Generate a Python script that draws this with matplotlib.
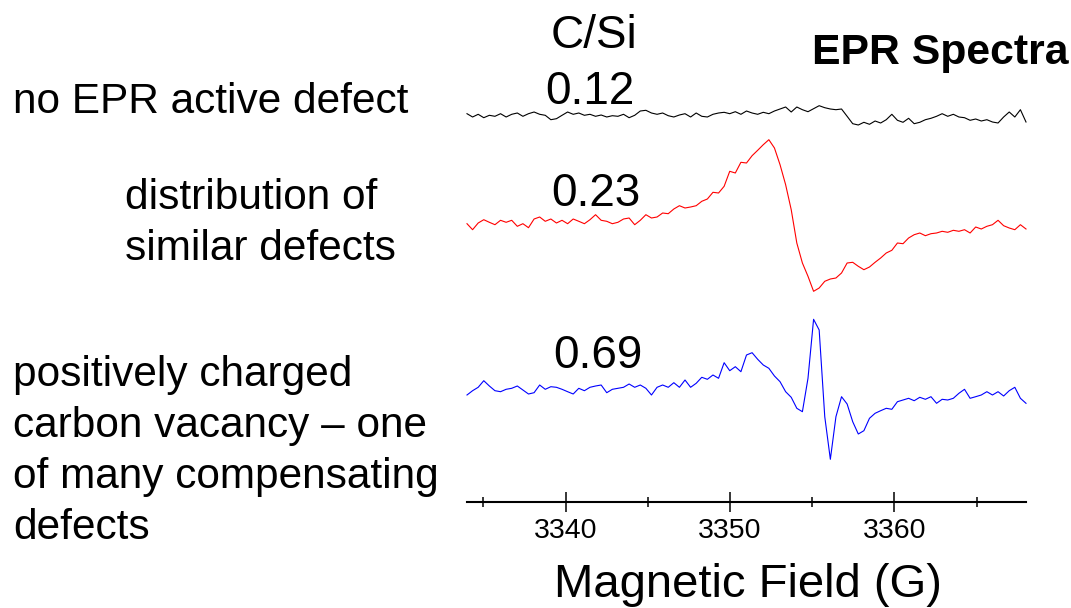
import numpy as np
import matplotlib
matplotlib.use("Agg")
import matplotlib.pyplot as plt
from matplotlib.ticker import MultipleLocator

plt.rcParams['font.family'] = ['Liberation Sans', 'DejaVu Sans']

# 磁场范围 (G)，三条谱线都按同一网格采样
field = np.linspace(3334, 3368, 101)

# 信号 (任意单位，相对各自基线)
sig_012 = [3.3, 0, 2.7, -0.7, 1.7, 0.7, 3.3, 0, 2.7, 4, 0.7, 3.3, 5, 2.7, 1.7, -2.7, -1.7,
           1.7, 5, 2.7, 4, 1.7, 2.7, 0.7, 2, 0, 1.3, 0.7, 2.7, -0.7, 1.7, 6, 6.7, 4, 2.7,
           4, 1.3, 0, 2, 3.3, 0, 4, 0.7, 0, 2.7, 4, 4.7, 3.3, 5.3, 2.7, 6, 4, 2.7, 4.7,
           3.3, 6, 8, 10, 5, 10, 7.3, 5.3, 8.3, 11.3, 9.3, 8, 7.3, 8, 0.7, -6.7, -8,
           -5.3, -7.3, -4, -6, -2.7, 2.7, -3.3, -5.3, -1.3, -6.7, -5.3, -2.7, -1.3, 0.7,
           3.3, 0.7, 2.7, 0, -0.7, -3.3, -2, -4, -2.7, -5, -6, 0, 5, 0, 7.3, -5]

sig_023 = [-0.7, -6.7, 0, 3.3, 0.7, -1.7, 2.7, 0.7, 2.7, -3.3, -0.7, -4.7, 4, 6, 1.7, 4,
           0, 2.7, -0.7, 4, 1.7, -0.7, 3.3, 8.3, 2.7, 1.7, -0.7, 0.7, 4, 5, -1.7, 2.7,
           8.3, 5, 6, 10, 9.3, 14, 17.3, 15, 16, 17.3, 21.7, 24, 30.7, 30, 36.7, 51.7,
           50, 60.7, 60, 67.3, 72.7, 78.3, 83.3, 75, 58.3, 38.3, 13.3, -20, -40, -53.3,
           -68.3, -65, -58.3, -56, -55, -50, -40, -39.3, -43.3, -46.7, -44, -39.3, -35,
           -30, -27.3, -20, -20.7, -15, -11.7, -10, -12.7, -10.7, -10, -8.3, -9.3, -7.3,
           -8.3, -6.7, -10, -4, -6, -3.3, -1.7, 2.7, -2.7, -5, -6.7, -1.7, -6]

sig_069 = [-5, -0.7, 2.7, 9.3, 4, -0.7, -1.7, 0.7, 1.7, 4, 0, -4, -2.7, 5, 0.7, 3.3, 2.7,
           0.7, -1.7, -4, 1.7, -0.7, 2.7, 4, 5, -2.7, 0.7, 1.7, 2.7, 6, 2.7, 5, 1.7, -5,
           2.7, 5, 2.7, 7.3, 2.7, 10, 2.7, 6.7, 12.7, 10.7, 15, 11.7, 27.3, 19.3, 23.3,
           18.3, 35, 37.3, 30.7, 25, 21.7, 14, 8.3, -1.7, -7.3, -18.3, -21.7, 11.7, 70.7,
           60, -26.7, -69.3, -26.7, -6.7, -14, -31.7, -44, -40.7, -28.3, -23.3, -20.7,
           -18.3, -19.3, -11.7, -10, -8.3, -10.7, -7.3, -9.3, -6.7, -13.3, -9.3, -10,
           -8.3, -3.3, 0.7, -8.3, -6.7, -5, -1.7, -5, -1.7, -6, -0.7, 2.7, -8.3, -13.3]

ratios = ['0.12', '0.23', '0.69']
colors = ['black', 'red', 'blue']
offsets = [385, 279, 112]  # 各谱线在图中的垂直偏移
labels = ['no EPR active defect', 'distribution of\nsimilar defects',
          'positively charged\ncarbon vacancy \u2013 one\nof many compensating\ndefects']

W, H = 1071, 608
fig = plt.figure(figsize=(W / 100, H / 100), dpi=100)
ax = fig.add_axes([467 / W, (H - 502) / H, 559 / W, 408 / H])

for sig, off, c in zip([sig_012, sig_023, sig_069], offsets, colors):
    ax.plot(field, np.array(sig) + off, color=c, lw=0.8, clip_on=False)

ax.set_xlim(3334, 3368)
ax.set_ylim(0, 408)
for s in ['left', 'right', 'top']:
    ax.spines[s].set_visible(False)
ax.spines['bottom'].set_linewidth(1.5)
ax.set_yticks([])
ax.xaxis.set_major_locator(MultipleLocator(10))
ax.xaxis.set_minor_locator(MultipleLocator(5))
ax.tick_params(axis='x', which='major', direction='inout', length=13.7, width=1.1,
               labelsize=20.5, pad=4.5)
ax.tick_params(axis='x', which='minor', direction='inout', length=6.8, width=1.1)
ax.patch.set_visible(False)

def fy(y):
    return 1 - y / H

fig.text(748 / W, fy(597), 'Magnetic Field (G)', ha='center', va='baseline', fontsize=34)
fig.text(594 / W, fy(47.5), 'C/Si', ha='center', va='baseline', fontsize=33)
fig.text(1069 / W, fy(64), 'EPR Spectra', ha='right', va='baseline', fontsize=30.8,
         fontweight='bold')

# C/Si 数值
for r, x, y in zip(ratios, [590, 596, 598], [104.5, 206.5, 368]):
    fig.text(x / W, fy(y), r, ha='center', va='baseline', fontsize=33)

# 左侧说明文字
line_h = 51
for lab, x, y in zip(labels, [13, 125, 13], [113, 209, 386]):
    for k, ln in enumerate(lab.split('\n')):
        fig.text(x / W, fy(y + k * line_h), ln, ha='left', va='baseline', fontsize=30.5)

fig.savefig('out.png', dpi=100)
